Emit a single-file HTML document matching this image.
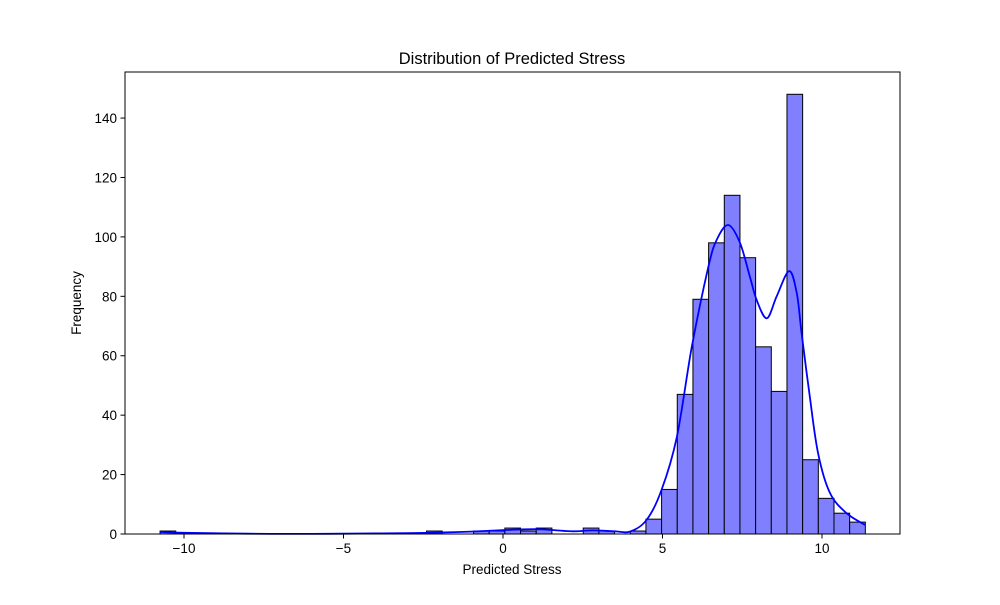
<!DOCTYPE html>
<html><head><meta charset="utf-8"><style>
body{margin:0;background:#fff;font-family:"Liberation Sans","DejaVu Sans",sans-serif}
</style></head><body>
<svg id="c" width="1000" height="600" xmlns="http://www.w3.org/2000/svg"></svg>
<script>
const binStart = -10.75;
const binWidth = 0.4913;
const counts = [1,0,0,0,0,0,0,0,0,0,0,0,0,0,0,0,0,1,0,0,1,1,2,1,2,0,0,2,1,0,1,5,15,47,79,98,114,93,63,48,148,25,12,7,4];
const kdeX = [-10.75,-10,-8,-6,-5,-3,-2,-1,0,1,1.6,2.2,2.8,3.5,3.98,4.5,4.97,5.45,5.92,6.44,6.70,7.06,7.43,7.74,7.95,8.27,8.58,8.97,9.21,9.36,9.62,9.88,10.25,10.77,11.36];
const kdeY = [0.7,0.4,0.1,0.05,0.1,0.3,0.5,0.8,1.3,1.6,1.3,0.9,1.2,0.9,0.8,4.7,14.8,32.7,63,90,99,104,98,86.6,78.8,72.6,80,88.5,81,67.6,46,27,13.8,7,3];
const xTicks = [-10,-5,0,5,10];
const xTickLabels = ["\u221210","\u22125","0","5","10"];
const yTicks = [0,20,40,60,80,100,120,140];

const L=125,R=900,T=72,B=534;
const xs=v=>503+31.9*v;
const ys=v=>534-2.971*v;
const svg=document.getElementById('c');
const NS='http://www.w3.org/2000/svg';
function mk(tag,attrs,parent){const e=document.createElementNS(NS,tag);for(const k in attrs)e.setAttribute(k,attrs[k]);(parent||svg).appendChild(e);return e;}

const bars=mk('g',{});


counts.forEach((c,i)=>{
  if(c<=0)return;
  const x0=xs(binStart+i*binWidth),x1=xs(binStart+(i+1)*binWidth);
  const r=mk('rect',{x:x0,y:ys(c),width:x1-x0,height:ys(0)-ys(c),fill:'#8080ff',stroke:'#000','stroke-width':1},bars);
  
  
});
const P=kdeX.map((v,i)=>[xs(v),ys(kdeY[i])]);
let d='M'+P[0][0].toFixed(1)+','+P[0][1].toFixed(1);
for(let i=0;i<P.length-1;i++){
  const p0=P[Math.max(0,i-1)],p1=P[i],p2=P[i+1],p3=P[Math.min(P.length-1,i+2)];
  const c1=[p1[0]+(p2[0]-p0[0])/6,p1[1]+(p2[1]-p0[1])/6];
  const c2=[p2[0]-(p3[0]-p1[0])/6,p2[1]-(p3[1]-p1[1])/6];
  d+='C'+c1[0].toFixed(1)+','+c1[1].toFixed(1)+' '+c2[0].toFixed(1)+','+c2[1].toFixed(1)+' '+p2[0].toFixed(1)+','+p2[1].toFixed(1);
}
const kde=mk('path',{d:d,fill:'none',stroke:'#0000ff','stroke-width':1.8,'stroke-linejoin':'round'});



const frame=mk('rect',{x:L,y:T,width:R-L,height:B-T,fill:'none',stroke:'#000','stroke-width':1});



xTicks.forEach((v,i)=>{
  const x=xs(v);
  const t=mk('line',{x1:x,x2:x,y1:B,y2:B+4.5,stroke:'#000'});
  
  
  const l=mk('text',{x:x,y:B+19,'text-anchor':'middle','font-size':13.5});
  l.textContent=xTickLabels[i];
  
  
});
yTicks.forEach(v=>{
  const y=ys(v);
  const t=mk('line',{x1:L-4.5,x2:L,y1:y,y2:y,stroke:'#000'});
  
  
  const l=mk('text',{x:L-8,y:y+5,'text-anchor':'end','font-size':13.5});
  l.textContent=v;
  
  
});
const xt=mk('text',{x:512,y:574,'text-anchor':'middle','font-size':13.5});
xt.textContent='Predicted Stress';


const yt=mk('text',{x:0,y:0,'text-anchor':'middle','font-size':13.5,transform:'translate(81,303) rotate(-90)'});
yt.textContent='Frequency';


const tt=mk('text',{x:512,y:64,'text-anchor':'middle','font-size':16.5});
tt.textContent='Distribution of Predicted Stress';


</script>
</body></html>
